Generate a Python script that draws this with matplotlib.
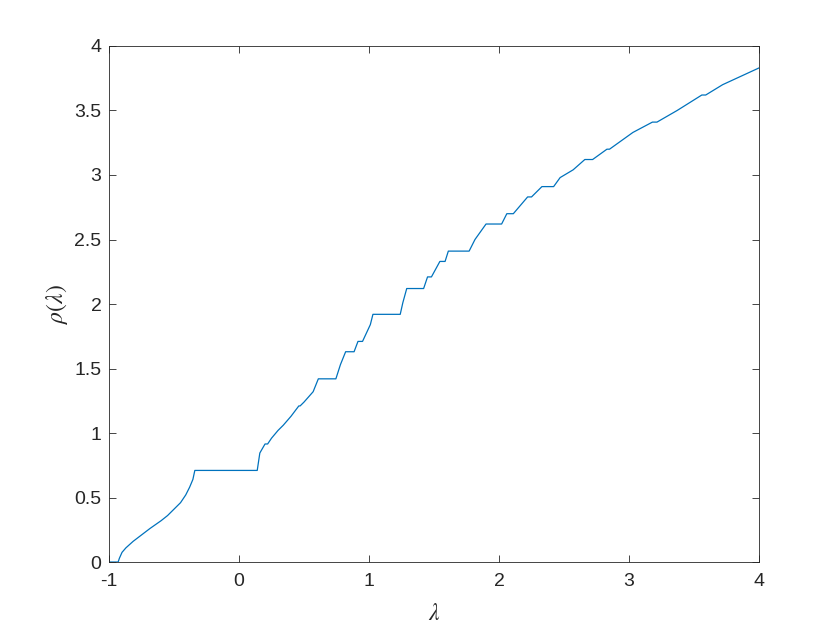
import matplotlib
matplotlib.use("Agg")
import matplotlib.pyplot as plt

# Punkte (lambda, rho)
lam = [-1.0, -0.93, -0.92, -0.9, -0.87, -0.815, -0.75, -0.685, -0.6, -0.55, -0.5,
       -0.45, -0.41, -0.38, -0.355, -0.34,
       0.14, 0.16, 0.2, 0.22, 0.25, 0.3, 0.34, 0.4, 0.46, 0.47, 0.5, 0.57, 0.61,
       0.745, 0.78, 0.82, 0.885, 0.915, 0.95, 1.01, 1.03,
       1.24, 1.26, 1.29, 1.42, 1.45, 1.48, 1.545, 1.585, 1.61, 1.77, 1.815, 1.9,
       2.02, 2.06, 2.11, 2.22, 2.25, 2.33, 2.42, 2.47, 2.57, 2.66, 2.72, 2.83,
       2.85, 3.03, 3.18, 3.215, 3.37, 3.56, 3.59, 3.72, 4.0]
rho = [0.0, 0.0, 0.03, 0.075, 0.11, 0.16, 0.21, 0.26, 0.32, 0.36, 0.41,
       0.46, 0.52, 0.58, 0.64, 0.71,
       0.71, 0.845, 0.915, 0.915, 0.96, 1.02, 1.06, 1.13, 1.21, 1.21, 1.24, 1.32, 1.42,
       1.42, 1.53, 1.63, 1.63, 1.71, 1.71, 1.84, 1.92,
       1.92, 2.01, 2.12, 2.12, 2.21, 2.21, 2.33, 2.33, 2.41, 2.41, 2.5, 2.62,
       2.62, 2.7, 2.7, 2.83, 2.83, 2.91, 2.91, 2.98, 3.04, 3.12, 3.12, 3.2,
       3.2, 3.33, 3.41, 3.41, 3.5, 3.62, 3.62, 3.7, 3.83]

xticks = [-1, 0, 1, 2, 3, 4]
yticks = [0, 0.5, 1, 1.5, 2, 2.5, 3, 3.5, 4]

plt.rcParams['font.family'] = ['Liberation Sans', 'DejaVu Sans']
plt.rcParams['axes.unicode_minus'] = False
plt.rcParams['mathtext.fontset'] = 'stix'

fig = plt.figure(figsize=(8.4, 6.3), dpi=100)
ax = fig.add_axes([0.1298, 0.1079, 0.7738, 0.8191])

ax.plot(lam, rho, color='#0072BD', lw=0.9)

ax.set_xlim(-1, 4)
ax.set_ylim(0, 4)
ax.set_xticks(xticks)
ax.set_yticks(yticks)
ax.set_xticklabels([f"{t:g}" for t in xticks])
ax.set_yticklabels([f"{t:g}" for t in yticks])

ax.tick_params(direction='in', top=True, right=True, length=5, width=0.6,
               labelsize=14, colors='#262626')
ax.tick_params(axis='x', pad=8)
ax.tick_params(axis='y', pad=5.5)
for s in ax.spines.values():
    s.set_color('#262626')
    s.set_linewidth(0.6)

ax.set_xlabel(r'$\lambda$', fontsize=17, color='#262626', labelpad=9)
ax.set_ylabel(r'$\rho(\lambda)$', fontsize=17, color='#262626', labelpad=3)

fig.savefig("out.png", dpi=100)
